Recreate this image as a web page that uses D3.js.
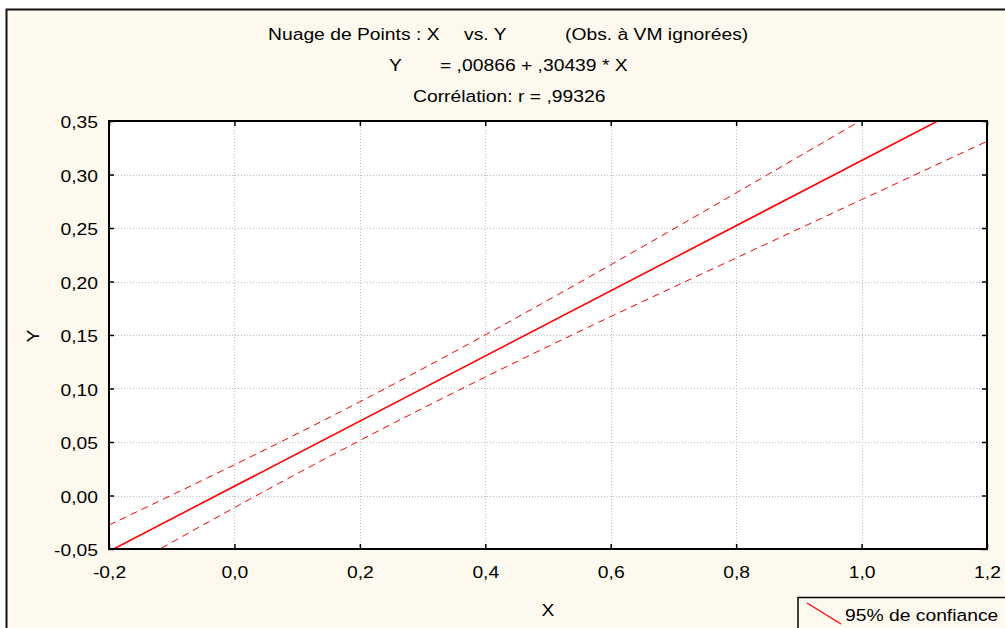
<!DOCTYPE html>
<html>
<head>
<meta charset="utf-8">
<script src="https://cdn.jsdelivr.net/npm/d3@7"></script>
<style>
  body { margin: 0; background: #ffffff; }
  text { font-family: "Liberation Sans", Arial, sans-serif; font-size: 16.5px; fill: #000; }
</style>
</head>
<body>
<div class="chart"></div>
<script>
// values
const xTicks = [-0.2, 0.0, 0.2, 0.4, 0.6, 0.8, 1.0, 1.2]
const yTicks = [-0.05, 0.00, 0.05, 0.10, 0.15, 0.20, 0.25, 0.30, 0.35]
const xGrid = [0.0, 0.2, 0.4, 0.6, 0.8, 1.0]
const yGrid = [0.00, 0.05, 0.10, 0.15, 0.20, 0.25, 0.30]

// regression line Y = ,00866 + ,30439 * X
const fitX = [-0.2, 1.2]
const fitY = [-0.0522, 0.3739]

// 95% confidence band
const bandX = [-0.2, 0.0, 0.2, 0.4, 0.6, 0.8, 1.0, 1.2]
const upperY = [-0.0276, 0.0287, 0.0876, 0.1501, 0.2156, 0.2828, 0.3508, 0.4190]
const lowerY = [-0.0768, -0.0113, 0.0514, 0.1107, 0.1672, 0.2220, 0.2765, 0.3310]

const titleLines = [
  [[268, "Nuage de Points : X"], [464, "vs. Y"], [565, "(Obs. à VM ignorées)"]],
  [[389, "Y"], [440, "= ,00866 + ,30439 * X"]],
  [[413, "Corrélation: r = ,99326"]]
]

let outerWidth = 1005
let outerHeight = 628
let margin = {top: 121, left: 109, right: 18, bottom: 79}
let width = outerWidth - margin.left - margin.right
let height = outerHeight - margin.top - margin.bottom
let sx = 1.17   // text in the picture is a bit wider than Arial

let fr = d3.formatLocale({decimal: ",", thousands: " ", grouping: [3], currency: ["", ""], minus: "-"})

let root = d3.select(".chart")
    .append("svg")
    .attr("width", outerWidth)
    .attr("height", outerHeight)

// background frame
root.append("rect")
    .attr("x", 6.5)
    .attr("y", 9.5)
    .attr("width", outerWidth)
    .attr("height", outerHeight)
    .attr("fill", "#fef9ee")
    .attr("stroke", "#111")
    .attr("stroke-width", 2)

// titles
let titleY = [40, 71, 102]
titleLines.forEach((line, i) => {
    line.forEach(p => {
        root.append("text")
            .attr("transform", `translate(${p[0]}, ${titleY[i]}) scale(${sx}, 1)`)
            .text(p[1])
    })
})

let svg = root.append("g")
    .attr("transform", `translate(${margin.left}, ${margin.top})`)

let xScale = d3.scaleLinear().domain([-0.2, 1.2]).range([0, width])
let yScale = d3.scaleLinear().domain([-0.05, 0.35]).range([height, 0])

svg.append("rect")
    .attr("width", width)
    .attr("height", height)
    .attr("fill", "#fff")

// grid
svg.append("g")
    .selectAll("line")
    .data(xGrid)
    .enter()
    .append("line")
    .attr("x1", d => Math.round(xScale(d)) + 0.5)
    .attr("x2", d => Math.round(xScale(d)) + 0.5)
    .attr("y1", 0)
    .attr("y2", height)
    .attr("stroke", "#bdbdbd")
    .attr("stroke-dasharray", "1,2")

svg.append("g")
    .selectAll("line")
    .data(yGrid)
    .enter()
    .append("line")
    .attr("y1", d => Math.round(yScale(d)) + 0.5)
    .attr("y2", d => Math.round(yScale(d)) + 0.5)
    .attr("x1", 0)
    .attr("x2", width)
    .attr("stroke", "#bdbdbd")
    .attr("stroke-dasharray", "1,2")

// lines
svg.append("clipPath")
    .attr("id", "clip")
    .append("rect")
    .attr("width", width)
    .attr("height", height)

let plot = svg.append("g").attr("clip-path", "url(#clip)")

let line = d3.line()
    .x(d => xScale(d[0]))
    .y(d => yScale(d[1]))

let bandLine = d3.line()
    .x(d => xScale(d[0]))
    .y(d => yScale(d[1]))
    .curve(d3.curveNatural)

plot.append("path")
    .attr("d", bandLine(d3.zip(bandX, upperY)))
    .attr("fill", "none")
    .attr("stroke", "#ff0000")
    .attr("stroke-width", 1)
    .attr("stroke-dasharray", "7,5")

plot.append("path")
    .attr("d", bandLine(d3.zip(bandX, lowerY)))
    .attr("fill", "none")
    .attr("stroke", "#ff0000")
    .attr("stroke-width", 1)
    .attr("stroke-dasharray", "7,5")

plot.append("path")
    .attr("d", line(d3.zip(fitX, fitY)))
    .attr("fill", "none")
    .attr("stroke", "#ff0000")
    .attr("stroke-width", 1.6)

// axes (ticks inside)
const xAxis = d3.axisBottom(xScale)
    .tickValues(xTicks)
    .tickSizeInner(-5)
    .tickSizeOuter(0)
    .tickPadding(17)
    .tickFormat(fr.format(".1f"))

const yAxis = d3.axisLeft(yScale)
    .tickValues(yTicks)
    .tickSizeInner(-5)
    .tickSizeOuter(0)
    .tickPadding(11)
    .tickFormat(fr.format(".2f"))

let gx = svg.append("g")
    .attr("class", "axis x-axis")
    .attr("transform", `translate(0, ${height})`)
    .call(xAxis)
gx.selectAll("text")
    .attr("transform", `scale(${sx}, 1)`)

let gy = svg.append("g")
    .attr("class", "axis y-axis")
    .call(yAxis)
gy.selectAll("text")
    .attr("x", -11 / sx)
    .attr("dy", "0.42em")
    .attr("transform", `scale(${sx}, 1)`)

svg.append("g")
    .call(d3.axisTop(xScale).tickValues(xTicks).tickSizeInner(-5).tickSizeOuter(0).tickFormat(""))
svg.append("g")
    .attr("transform", `translate(${width}, 0)`)
    .call(d3.axisRight(yScale).tickValues(yTicks).tickSizeInner(-5).tickSizeOuter(0).tickFormat(""))

root.selectAll(".domain").remove()
root.selectAll(".tick line").attr("stroke", "#000").attr("stroke-width", 1.5)
root.selectAll(".tick text").style("font-size", "16.5px").style("font-family", '"Liberation Sans", Arial, sans-serif')

svg.append("rect")
    .attr("width", width)
    .attr("height", height)
    .attr("fill", "none")
    .attr("stroke", "#000")
    .attr("stroke-width", 2)

// axis labels
root.append("text")
    .attr("transform", `translate(548, 616) scale(${sx}, 1)`)
    .attr("text-anchor", "middle")
    .text("X")

root.append("text")
    .attr("transform", `translate(39, 336) rotate(-90) scale(${sx}, 1)`)
    .attr("text-anchor", "middle")
    .text("Y")

// legend
let legend = root.append("g").attr("class", "legend")
legend.append("rect")
    .attr("x", 798)
    .attr("y", 597.5)
    .attr("width", 300)
    .attr("height", 100)
    .attr("fill", "#fef9ee")
    .attr("stroke", "#000")
    .attr("stroke-width", 1.5)
legend.append("line")
    .attr("x1", 807)
    .attr("y1", 603)
    .attr("x2", 841)
    .attr("y2", 624)
    .attr("stroke", "#ff0000")
    .attr("stroke-width", 1.3)
legend.append("text")
    .attr("transform", `translate(845, 621) scale(${sx}, 1)`)
    .text("95% de confiance")
</script>
</body>
</html>
